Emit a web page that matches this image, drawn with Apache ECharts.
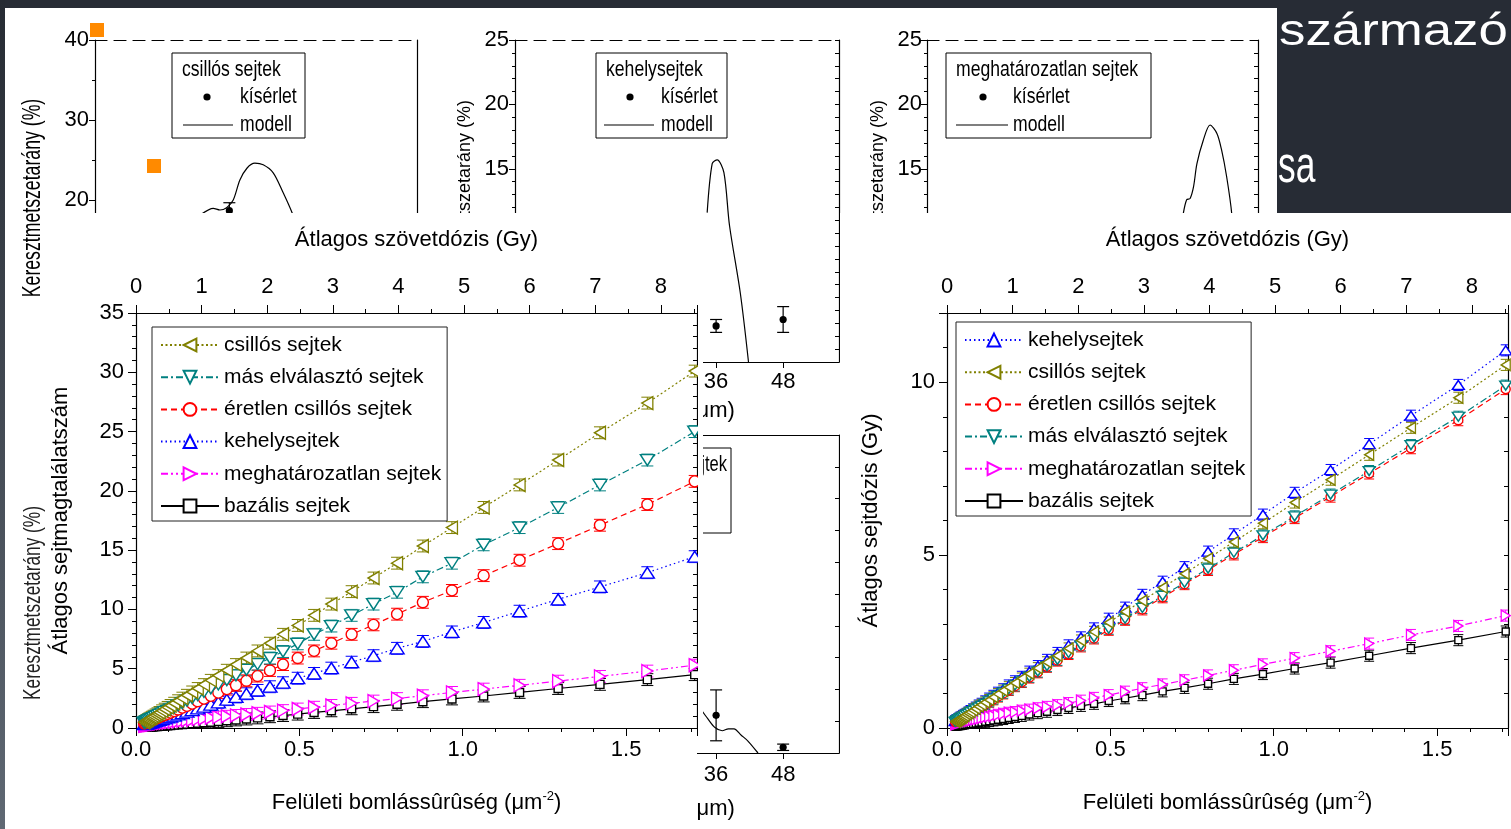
<!DOCTYPE html>
<html><head><meta charset="utf-8">
<script src="https://cdn.jsdelivr.net/npm/echarts/dist/echarts.min.js"></script>
<style>html,body{margin:0;padding:0;background:#272c35;overflow:hidden}#c{width:1511px;height:829px}</style>
</head><body><div id="c"></div>
<script>
// ---------------- data ----------------
const X_MAX = 1.717;      // μm^-2 at right edge of plots
const GY_MAX = 8.549;     // Gy at right edge of plots (top axis)
const X = [0.025,0.028,0.031,0.034,0.037,0.041,0.045,0.049,0.054,0.060,0.066,0.072,0.080,0.088,0.097,0.106,0.117,0.129,0.142,0.156,0.172,0.189,0.208,0.229,0.252,0.278,0.306,0.338,0.372,0.410,0.450,0.495,0.545,0.598,0.660,0.727,0.799,0.878,0.967,1.064,1.174,1.292,1.420,1.565,1.710];

// Átlagos sejtmagtalálatszám (left chart)
const countCsillos = [0.49,0.54,0.60,0.65,0.70,0.77,0.84,0.91,1.00,1.10,1.20,1.31,1.45,1.59,1.74,1.90,2.09,2.30,2.52,2.76,3.04,3.33,3.66,4.02,4.42,4.87,5.35,5.90,6.50,7.15,7.90,8.65,9.50,10.45,11.50,12.65,13.90,15.35,16.90,18.60,20.50,22.60,24.90,27.40,30.10];
const countMas     = [0.44,0.48,0.52,0.56,0.60,0.66,0.72,0.77,0.84,0.93,1.01,1.10,1.21,1.33,1.45,1.58,1.74,1.91,2.10,2.30,2.52,2.77,3.04,3.34,3.67,4.04,4.44,4.90,5.38,5.90,6.45,7.10,7.90,8.60,9.50,10.45,11.45,12.75,13.90,15.45,16.90,18.60,20.50,22.60,25.00];
const countEretlen = [0.38,0.41,0.45,0.48,0.51,0.56,0.60,0.65,0.70,0.77,0.84,0.91,1.00,1.09,1.19,1.30,1.42,1.56,1.71,1.87,2.05,2.25,2.47,2.71,2.98,3.28,3.60,3.98,4.38,4.85,5.35,5.90,6.50,7.15,7.90,8.70,9.60,10.60,11.60,12.85,14.15,15.55,17.10,18.85,20.80];
const countKehely  = [0.32,0.34,0.36,0.38,0.41,0.44,0.47,0.50,0.54,0.59,0.64,0.69,0.75,0.82,0.89,0.96,1.05,1.15,1.26,1.38,1.51,1.65,1.81,1.98,2.17,2.39,2.62,2.89,3.17,3.48,3.82,4.20,4.60,5.05,5.55,6.10,6.72,7.30,8.10,8.90,9.85,10.85,11.90,13.10,14.45];
const countMeghat  = [0.19,0.20,0.22,0.23,0.25,0.26,0.28,0.30,0.32,0.34,0.36,0.38,0.41,0.44,0.47,0.50,0.53,0.57,0.61,0.65,0.70,0.75,0.80,0.86,0.92,0.99,1.06,1.14,1.24,1.35,1.47,1.60,1.75,1.90,2.08,2.27,2.48,2.72,3.00,3.28,3.60,3.95,4.35,4.80,5.30];
const countBazalis = [0.05,0.05,0.06,0.06,0.07,0.08,0.09,0.09,0.10,0.12,0.13,0.14,0.16,0.17,0.19,0.21,0.24,0.26,0.29,0.32,0.36,0.40,0.44,0.49,0.55,0.61,0.68,0.76,0.85,0.95,1.05,1.17,1.31,1.45,1.62,1.80,2.00,2.22,2.45,2.70,3.00,3.33,3.68,4.08,4.50];

// Átlagos sejtdózis (Gy) (right chart)
const doseKehely  = [0.20,0.22,0.23,0.25,0.27,0.30,0.32,0.35,0.38,0.41,0.45,0.49,0.54,0.59,0.65,0.70,0.77,0.85,0.93,1.02,1.12,1.23,1.35,1.48,1.63,1.79,1.97,2.17,2.39,2.62,2.88,3.16,3.48,3.85,4.23,4.65,5.10,5.60,6.17,6.80,7.46,8.21,9.03,9.92,10.92];
const doseCsillos = [0.18,0.20,0.21,0.23,0.25,0.27,0.30,0.32,0.35,0.39,0.43,0.46,0.51,0.56,0.62,0.67,0.74,0.81,0.89,0.98,1.08,1.18,1.30,1.43,1.57,1.73,1.90,2.09,2.30,2.53,2.78,3.05,3.36,3.68,4.06,4.46,4.90,5.38,5.92,6.52,7.18,7.90,8.68,9.55,10.50];
const doseEretlen = [0.17,0.19,0.20,0.22,0.24,0.26,0.28,0.31,0.33,0.37,0.40,0.44,0.48,0.53,0.58,0.63,0.69,0.76,0.83,0.91,1.00,1.10,1.21,1.33,1.46,1.61,1.77,1.95,2.14,2.36,2.59,2.84,3.13,3.43,3.78,4.16,4.57,5.02,5.52,6.07,6.69,7.36,8.09,8.90,9.80];
const doseMas     = [0.18,0.19,0.21,0.23,0.25,0.27,0.29,0.31,0.34,0.38,0.41,0.45,0.49,0.54,0.59,0.64,0.70,0.77,0.85,0.93,1.02,1.12,1.23,1.35,1.48,1.63,1.79,1.97,2.17,2.39,2.62,2.87,3.16,3.47,3.82,4.20,4.61,5.07,5.57,6.12,6.75,7.43,8.18,9.00,9.90];
const doseMeghat  = [0.11,0.12,0.13,0.14,0.15,0.16,0.17,0.18,0.19,0.20,0.21,0.22,0.24,0.25,0.27,0.29,0.31,0.33,0.35,0.38,0.41,0.44,0.46,0.50,0.53,0.57,0.61,0.66,0.72,0.79,0.87,0.95,1.05,1.15,1.26,1.38,1.52,1.67,1.84,2.02,2.22,2.44,2.69,2.95,3.25];
const doseBazalis = [0.04,0.04,0.05,0.05,0.06,0.06,0.07,0.07,0.08,0.09,0.10,0.11,0.12,0.13,0.15,0.16,0.18,0.20,0.22,0.24,0.26,0.29,0.32,0.35,0.39,0.43,0.47,0.52,0.58,0.64,0.70,0.78,0.86,0.95,1.06,1.16,1.28,1.42,1.56,1.72,1.89,2.09,2.31,2.54,2.79];

const ERR_LEFT = 0.5, ERR_RIGHT = 0.16;

const LEGEND_LEFT  = ['csillós sejtek','más elválasztó sejtek','éretlen csillós sejtek','kehelysejtek','meghatározatlan sejtek','bazális sejtek'];
const LEGEND_RIGHT = ['kehelysejtek','csillós sejtek','éretlen csillós sejtek','más elválasztó sejtek','meghatározatlan sejtek','bazális sejtek'];

// background (partially hidden) charts: [depth μm, %] and [depth, %, error]
const tlModel = [[19.2,18.25],[21.3,18.96],[22.5,18.75],[23.7,19.04],[24.9,20.0],[26.1,22.5],[27.4,24.0],[28.8,24.6],[30.3,24.4],[32.1,23.4],[33.9,20.9],[35.5,18.4],[36.9,15.6],[38.5,11.0]];
const tlExp   = [[24.2,18.66,1.0]];
const tmModel = [[34.4,11.6],[35.3,15.4],[36.2,15.7],[37.4,14.7],[38.4,10.6],[40.35,5.3],[41.8,0]];
const tmExp   = [[36,2.8,0.5],[48,3.3,1.0]];
const trModel = [[44.9,11.5],[45.5,12.6],[46.1,12.7],[46.7,13.6],[47.3,15.4],[48.4,17.2],[49.6,18.4],[50.8,17.75],[51.6,16.5],[52.5,14.4],[53.4,11.5],[54.5,5.0],[55.3,0]];
const lmModel = [[33.5,3.3],[34.5,2.7],[35.8,2.0],[37.1,1.75],[38.2,1.9],[39.2,1.89],[40.5,1.4],[41.7,0.94],[43.5,0]];
const lmExp   = [[36,2.96,2.0],[48,0.45,0.25]];

// ---------------- styles ----------------
const FONT = 'Liberation Sans';
const TRI_L = 'path://M10,0L10,10L0,5Z';
const TRI_R = 'path://M0,0L10,5L0,10Z';
const TRI_D = 'path://M0,0L10,0L5,10Z';
const TRI_U = 'path://M5,0L10,10L0,10Z';
const DEFS = [
  {name:'bazális sejtek', color:'#000000', dash:'solid', symbol:'rect', sizeL:8, sizeR:7, count:countBazalis, dose:doseBazalis},
  {name:'meghatározatlan sejtek', color:'#ff00ff', dash:[7,3,2,3,2,3], symbol:TRI_R, sizeL:[11,13], sizeR:[9,11], count:countMeghat, dose:doseMeghat},
  {name:'kehelysejtek', color:'#0000ff', dash:[1.5,3], symbol:TRI_U, sizeL:[14,11], sizeR:[12,9], count:countKehely, dose:doseKehely},
  {name:'éretlen csillós sejtek', color:'#ff0000', dash:[6,4], symbol:'circle', sizeL:11, sizeR:9, count:countEretlen, dose:doseEretlen},
  {name:'más elválasztó sejtek', color:'#008080', dash:[7,3,2,3], symbol:TRI_D, sizeL:[14,11], sizeR:[12,9], count:countMas, dose:doseMas},
  {name:'csillós sejtek', color:'#808000', dash:[2,2.5], symbol:TRI_L, sizeL:[11,13], sizeR:[9,11], count:countCsillos, dose:doseCsillos}
];

const series = [];
const errL = [], errR = [];
DEFS.forEach((d, k) => {
  X.forEach((x, i) => { errL.push([x, d.count[i], k]); errR.push([x, d.dose[i], k]); });
});
function errRender(E, hw) {
  return function (params, api) {
    const x = api.value(0), y = api.value(1), c = DEFS[api.value(2)].color;
    const a = api.coord([x, y + E]), b = api.coord([x, Math.max(0, y - E)]);
    const st = {stroke: c, lineWidth: 1};
    return {type:'group', children:[
      {type:'line', shape:{x1:a[0], y1:a[1], x2:b[0], y2:b[1]}, style:st},
      {type:'line', shape:{x1:a[0]-hw, y1:a[1], x2:a[0]+hw, y2:a[1]}, style:st},
      {type:'line', shape:{x1:b[0]-hw, y1:b[1], x2:b[0]+hw, y2:b[1]}, style:st}
    ]};
  };
}
series.push({type:'custom', name:'errL', xAxisIndex:0, yAxisIndex:0, data:errL, encode:{x:0,y:1}, renderItem:errRender(ERR_LEFT,6), clip:true, silent:true, z:24});
series.push({type:'custom', name:'errR', xAxisIndex:2, yAxisIndex:1, data:errR, encode:{x:0,y:1}, renderItem:errRender(ERR_RIGHT,5), clip:true, silent:true, z:24});

DEFS.forEach(d => {
  const common = {type:'line', name:d.name, symbol:d.symbol, showSymbol:true, clip:true, z:25,
    lineStyle:{color:d.color, width:1.2, type:d.dash},
    itemStyle:{color:'#ffffff', borderColor:d.color, borderWidth:1.4},
    emphasis:{disabled:true}};
  series.push(Object.assign({}, common, {xAxisIndex:0, yAxisIndex:0, symbolSize:d.sizeL, data:X.map((x,i)=>[x, d.count[i]])}));
  series.push(Object.assign({}, common, {xAxisIndex:2, yAxisIndex:1, symbolSize:d.sizeR, data:X.map((x,i)=>[x, d.dose[i]])}));
});

// background chart series
function bgErr(params, api) {
  const x = api.value(0), y = api.value(1), e = api.value(2);
  const a = api.coord([x, y + e]), b = api.coord([x, y - e]);
  const st = {stroke:'#000', lineWidth:1.2};
  return {type:'group', children:[
    {type:'line', shape:{x1:a[0], y1:a[1], x2:b[0], y2:b[1]}, style:st},
    {type:'line', shape:{x1:a[0]-6, y1:a[1], x2:a[0]+6, y2:a[1]}, style:st},
    {type:'line', shape:{x1:b[0]-6, y1:b[1], x2:b[0]+6, y2:b[1]}, style:st},
    {type:'circle', shape:{cx:(a[0]+b[0])/2, cy:(a[1]+b[1])/2, r:3.6}, style:{fill:'#000'}}
  ]};
}
function bgModel(data, xi, yi) {
  return {type:'line', data, xAxisIndex:xi, yAxisIndex:yi, smooth:0.3, symbol:'none', clip:true, z:3, silent:true,
    lineStyle:{color:'#000', width:1.2}};
}
function bgExp(data, xi, yi) {
  return {type:'custom', data, xAxisIndex:xi, yAxisIndex:yi, encode:{x:0,y:1}, renderItem:bgErr, clip:true, z:3, silent:true};
}
series.push(bgModel(tlModel, 4, 2), bgExp(tlExp, 4, 2));
series.push(bgModel(tmModel, 5, 3), bgExp(tmExp, 5, 3));
series.push(bgModel(trModel, 6, 4));
series.push(bgModel(lmModel, 7, 5), bgExp(lmExp, 7, 5));

// ---------------- axes ----------------
const BLACK = '#000';
function lineS(w){ return {show:true, onZero:false, lineStyle:{color:BLACK, width:w||1.2}}; }
function lab(o){ return Object.assign({show:true, color:BLACK, fontSize:22, fontFamily:FONT}, o||{}); }
const noLab = {show:false};
function isMult(v, s){ return Math.abs(v/s - Math.round(v/s)) < 1e-6; }

const xAxis = [
  // 0 main left bottom
  {gridIndex:0, type:'value', min:0, max:X_MAX, interval:0.5, position:'bottom', z:20,
   axisLine:lineS(), axisTick:{show:true, length:8, lineStyle:{color:BLACK}},
   minorTick:{show:true, splitNumber:5, length:4, lineStyle:{color:BLACK}}, splitLine:{show:false},
   axisLabel:lab({margin:11, showMaxLabel:false, formatter:v=>isMult(v,0.5)?v.toFixed(1):''}),
   name:'{t|Felületi bomlássûrûség (μm}{s|-2}{t|)}', nameLocation:'middle', nameGap:62,
   nameTextStyle:{rich:{t:{fontSize:22, fontFamily:FONT, color:BLACK, lineHeight:26}, s:{fontSize:13, fontFamily:FONT, color:BLACK, verticalAlign:'top', lineHeight:14}}}},
  // 1 main left top
  {gridIndex:0, type:'value', min:0, max:GY_MAX, interval:1, position:'top', z:20,
   axisLine:lineS(), axisTick:{show:true, length:8, lineStyle:{color:BLACK}},
   minorTick:{show:true, splitNumber:2, length:4, lineStyle:{color:BLACK}}, splitLine:{show:false},
   axisLabel:lab({margin:15, showMaxLabel:false, formatter:v=>isMult(v,1)?String(Math.round(v)):''}),
   name:'Átlagos szövetdózis (Gy)', nameLocation:'middle', nameGap:62,
   nameTextStyle:{fontSize:22, fontFamily:FONT, color:BLACK}},
  // 2 main right bottom
  {gridIndex:1, type:'value', min:0, max:X_MAX, interval:0.5, position:'bottom', z:20,
   axisLine:lineS(), axisTick:{show:true, length:8, lineStyle:{color:BLACK}},
   minorTick:{show:true, splitNumber:5, length:4, lineStyle:{color:BLACK}}, splitLine:{show:false},
   axisLabel:lab({margin:11, showMaxLabel:false, formatter:v=>isMult(v,0.5)?v.toFixed(1):''}),
   name:'{t|Felületi bomlássûrûség (μm}{s|-2}{t|)}', nameLocation:'middle', nameGap:62,
   nameTextStyle:{rich:{t:{fontSize:22, fontFamily:FONT, color:BLACK, lineHeight:26}, s:{fontSize:13, fontFamily:FONT, color:BLACK, verticalAlign:'top', lineHeight:14}}}},
  // 3 main right top
  {gridIndex:1, type:'value', min:0, max:GY_MAX, interval:1, position:'top', z:20,
   axisLine:lineS(), axisTick:{show:true, length:8, lineStyle:{color:BLACK}},
   minorTick:{show:true, splitNumber:2, length:4, lineStyle:{color:BLACK}}, splitLine:{show:false},
   axisLabel:lab({margin:15, showMaxLabel:false, formatter:v=>isMult(v,1)?String(Math.round(v)):''}),
   name:'Átlagos szövetdózis (Gy)', nameLocation:'middle', nameGap:62,
   nameTextStyle:{fontSize:22, fontFamily:FONT, color:BLACK}}
];
// 4..7 background bottoms (TL, TM, TR, LM)
[[2,9,38],[3,9,38],[4,9,38],[5,11,45]].forEach(([g, m, ng]) => {
  xAxis.push({gridIndex:g, type:'value', min:0, max:58, interval:12, position:'bottom', z:2,
    axisLine:lineS(), axisTick:{show:true, length:6, lineStyle:{color:BLACK}}, splitLine:{show:false},
    axisLabel:lab({margin:m, showMaxLabel:false, formatter:v=>isMult(v,12)?String(v):''}),
    name:'Mélység (μm)', nameLocation:'middle', nameGap:ng,
    nameTextStyle:{fontSize:22, fontFamily:FONT, color:BLACK, padding:[0,18,0,0]}});
});
// 8..11 background tops
[[2,[12,7]],[3,[12,7]],[4,[12,7]],[5,'solid']].forEach(([g, t]) => {
  xAxis.push({gridIndex:g, type:'value', min:0, max:58, position:'top', z:2,
    axisLine:{show:true, onZero:false, lineStyle:{color:BLACK, width:1.2, type:t}}, axisTick:{show:false}, axisLabel:noLab, splitLine:{show:false}});
});

const yAxis = [
  // 0 main left
  {gridIndex:0, type:'value', min:0, max:35, interval:5, position:'left', z:20,
   axisLine:lineS(), axisTick:{show:true, length:8, lineStyle:{color:BLACK}},
   minorTick:{show:true, splitNumber:5, length:4, lineStyle:{color:BLACK}}, splitLine:{show:false},
   axisLabel:lab({margin:12}), name:'Átlagos sejtmagtalálatszám', nameLocation:'middle', nameGap:64,
   nameTextStyle:{fontSize:22, fontFamily:FONT, color:BLACK}},
  // 1 main right
  {gridIndex:1, type:'value', min:0, max:12, interval:5, position:'left', z:20,
   axisLine:lineS(), axisTick:{show:true, length:8, lineStyle:{color:BLACK}},
   minorTick:{show:true, splitNumber:5, length:4, lineStyle:{color:BLACK}}, splitLine:{show:false},
   axisLabel:lab({margin:12, showMaxLabel:false, formatter:v=>isMult(v,5)?String(v):''}),
   name:'Átlagos sejtdózis (Gy)', nameLocation:'middle', nameGap:65,
   nameTextStyle:{fontSize:22, fontFamily:FONT, color:BLACK}},
  // 2 TL left
  {gridIndex:2, type:'value', min:0, max:40, interval:10, position:'left', z:2,
   axisLine:lineS(), axisTick:{show:true, length:6, lineStyle:{color:BLACK}},
   minorTick:{show:true, splitNumber:2, length:3, lineStyle:{color:BLACK}}, splitLine:{show:false},
   axisLabel:lab({margin:6})},
  // 3 TM left
  {gridIndex:3, type:'value', min:0, max:25, interval:5, position:'left', z:2,
   axisLine:lineS(), axisTick:{show:true, length:6, lineStyle:{color:BLACK}},
   minorTick:{show:true, splitNumber:5, length:3, lineStyle:{color:BLACK}}, splitLine:{show:false},
   axisLabel:lab({margin:6}), name:'Keresztmetszetarány (%)', nameLocation:'middle', nameGap:41,
   nameTextStyle:{fontSize:18, fontFamily:FONT, color:BLACK}},
  // 4 TR left
  {gridIndex:4, type:'value', min:0, max:25, interval:5, position:'left', z:2,
   axisLine:lineS(), axisTick:{show:true, length:6, lineStyle:{color:BLACK}},
   minorTick:{show:true, splitNumber:5, length:3, lineStyle:{color:BLACK}}, splitLine:{show:false},
   axisLabel:lab({margin:5}), name:'Keresztmetszetarány (%)', nameLocation:'middle', nameGap:40,
   nameTextStyle:{fontSize:18, fontFamily:FONT, color:BLACK}},
  // 5 LM left
  {gridIndex:5, type:'value', min:0, max:25, interval:5, position:'left', z:2,
   axisLine:lineS(), axisTick:{show:true, length:6, lineStyle:{color:BLACK}}, splitLine:{show:false},
   axisLabel:lab({margin:6})}
];
// 6..9 background rights (TL, TM, TR, LM); 10..11 main rights
[[2,10,false],[3,1,true],[4,1,true],[5,2.5,true]].forEach(([g, iv, tk]) => {
  yAxis.push({gridIndex:g, type:'value', min:0, max:(g===2?40:25), interval:iv, position:'right', z:2,
    axisLine:lineS(), axisTick:{show:tk, inside:true, length:4, lineStyle:{color:BLACK}}, axisLabel:noLab, splitLine:{show:false}});
});
[[0,35],[1,12]].forEach(([g, mx]) => {
  yAxis.push({gridIndex:g, type:'value', min:0, max:mx, interval:1, position:'right', z:20,
    axisLine:lineS(), axisTick:{show:true, inside:true, length:4, lineStyle:{color:BLACK}}, axisLabel:noLab, splitLine:{show:false}});
});

const grid = [
  {left:136, top:313, width:561, height:415},
  {left:947, top:313, width:561, height:415},
  {left:95, top:40, width:322, height:320},
  {left:515, top:40, width:324, height:322},
  {left:927, top:40, width:331, height:322},
  {left:515, top:435, width:324, height:318}
].map(g => Object.assign(g, {outerBoundsMode:'none', containLabel:false}));

// ---------------- decorations ----------------
const TF = '"Liberation Sans"';
function txt(x, y, s, size, o) {
  return Object.assign({type:'text', x, y, z:3, scaleX:0.8,
    style:{text:s, font:size+'px '+TF, fill:'#000', textAlign:'left', align:'left', textVerticalAlign:'middle', verticalAlign:'middle'}}, o||{});
}
function bgLegend(bx, by, bw, title, dotX, textX, lineX1, lineX2, alignRight) {
  const els = [
    {type:'rect', z:3, shape:{x:bx, y:by, width:bw, height:85}, style:{fill:'#fff', stroke:'#000', lineWidth:1}},
    {type:'circle', z:3, shape:{cx:dotX, cy:by+44, r:3.6}, style:{fill:'#000'}},
    {type:'line', z:3, shape:{x1:lineX1, y1:by+72, x2:lineX2, y2:by+72}, style:{stroke:'#000', lineWidth:1.2}},
    txt(textX, by+44, 'kísérlet', 22),
    txt(textX, by+72, 'modell', 22)
  ];
  if (alignRight) {
    els.push({type:'text', x:bx+bw-4, y:by+17, z:3, scaleX:0.75,
      style:{text:title, font:'22px '+TF, fill:'#000', textAlign:'right', align:'right', textVerticalAlign:'middle', verticalAlign:'middle'}});
  } else {
    els.push(txt(bx+10, by+17, title, 22));
  }
  return els;
}
const gradient = {type:'linear', x:0, y:0, x2:0, y2:1, colorStops:[{offset:0, color:'#262b33'},{offset:1, color:'#5f6873'}]};
const elements = [
  {type:'rect', z:0, shape:{x:0, y:0, width:5, height:829}, style:{fill:gradient}},
  {type:'rect', z:0, shape:{x:5, y:8, width:1272, height:205}, style:{fill:'#fff'}},
  {type:'rect', z:0, shape:{x:5, y:213, width:1506, height:616}, style:{fill:'#fff'}},
  ...bgLegend(172, 53, 133, 'csillós sejtek', 207, 240, 183, 233, false),
  ...bgLegend(596, 53, 131, 'kehelysejtek', 630, 661, 604, 654, false),
  ...bgLegend(946, 53, 205, 'meghatározatlan sejtek', 983, 1013, 956, 1008, false),
  ...bgLegend(600, 448, 131, 'bazális sejtek', 612, 625, 606, 640, true),
  // main images covering the background charts
  {type:'rect', z:10, shape:{x:5, y:213, width:692, height:616}, style:{fill:'#fff'}},
  {type:'rect', z:10, shape:{x:840, y:213, width:671, height:616}, style:{fill:'#fff'}},
  {type:'rect', z:26, shape:{x:698, y:300, width:5, height:440}, style:{fill:'#fff'}},
  // rotated labels of hidden charts
  {type:'text', z:40, x:33, y:198, rotation:Math.PI/2, scaleX:0.68,
   style:{text:'Keresztmetszetarány (%)', font:'26px '+TF, fill:'#000', textAlign:'center', align:'center', textVerticalAlign:'middle', verticalAlign:'middle'}},
  {type:'text', z:40, x:33, y:603, rotation:Math.PI/2, scaleX:0.72,
   style:{text:'Keresztmetszetarány (%)', font:'24px '+TF, fill:'#222', textAlign:'center', align:'center', textVerticalAlign:'middle', verticalAlign:'middle'}},
  // slide bullets
  {type:'rect', z:40, shape:{x:90, y:23, width:14, height:14}, style:{fill:'#ff8a00'}},
  {type:'rect', z:40, shape:{x:147, y:159, width:14, height:14}, style:{fill:'#ff8a00'}},
  // slide title fragments
  {type:'text', z:40, x:1279, y:33, scaleX:1.2,
   style:{text:'származó', font:'44px '+TF, fill:'#fff', textAlign:'left', align:'left', textVerticalAlign:'middle', verticalAlign:'middle'}},
  {type:'text', z:40, x:1278, y:168, scaleX:0.68,
   style:{text:'sa', font:'52px '+TF, fill:'#fff', textAlign:'left', align:'left', textVerticalAlign:'middle', verticalAlign:'middle'}}
];

const legendBase = {orient:'vertical', padding:[7,6,4,8], itemGap:10.2, itemWidth:58, itemHeight:16,
  borderColor:'#222', borderWidth:1, backgroundColor:'#fff', selectedMode:false, z:30,
  textStyle:{fontSize:21, lineHeight:22, color:'#000', fontFamily:FONT}};

const option = {
  animation:false,
  backgroundColor:'#272c35',
  textStyle:{fontFamily:FONT},
  grid, xAxis, yAxis, series,
  legend:[
    Object.assign({}, legendBase, {data:LEGEND_LEFT, left:152, top:327}),
    Object.assign({}, legendBase, {data:LEGEND_RIGHT, left:956, top:322})
  ],
  graphic:{elements}
};
const chart = echarts.init(document.getElementById('c'), null, {renderer:'canvas'});
chart.setOption(option);
</script></body></html>
